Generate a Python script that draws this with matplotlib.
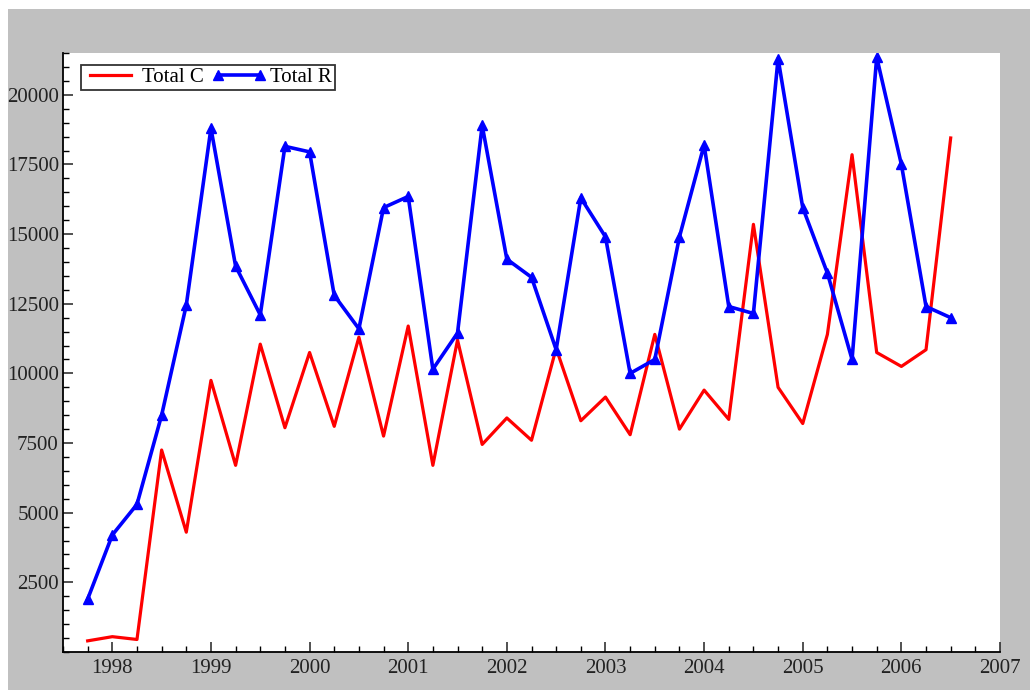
import numpy as np
import matplotlib.pyplot as plt
from matplotlib.patches import Rectangle
from matplotlib.ticker import MultipleLocator, FixedLocator

# quarterly values, 1997 Q4 .. 2006 Q3
t = 1997.75 + 0.25*np.arange(36)

total_c = [400, 550, 450, 7250, 4300, 9750, 6700, 11050, 8050, 10750,
           8100, 11300, 7750, 11700, 6700, 11200, 7450, 8400, 7600, 10900,
           8300, 9150, 7800, 11400, 8000, 9400, 8350, 15350, 9500, 8200,
           11400, 17850, 10750, 10250, 10850, 18450]

total_r = [1900, 4200, 5300, 8500, 12450, 18800, 13850, 12100, 18150, 17950,
           12800, 11600, 15950, 16350, 10150, 11450, 18900, 14100, 13450, 10850,
           16300, 14900, 10000, 10500, 14900, 18200, 12400, 12150, 21300, 15950,
           13600, 10500, 21350, 17500, 12400, 12000]

year_ticks = list(range(1998, 2008))
y_labels = [2500, 5000, 7500, 10000, 12500, 15000, 17500, 20000]

plt.rcParams['font.family'] = ['Liberation Serif', 'DejaVu Serif']

fig = plt.figure(figsize=(10.3, 6.9), dpi=100)
fig.patches.append(Rectangle((8/1030, 0), 1, 1 - 9/690, transform=fig.transFigure,
                             facecolor='#c0c0c0', edgecolor='none', zorder=-10))

ax = fig.add_axes([63/1030, 38/690, 937/1030, 599/690])
ax.set_facecolor('white')

ax.plot(t, total_c, color='#ff0000', lw=2.3, label='Total C')
ax.plot(t, total_r, color='#0000ff', lw=2.6, marker='^', ms=7.5, label='Total R')

ax.set_xlim(1997.5, 2007)
ax.set_ylim(0, 21500)

ax.xaxis.set_major_locator(FixedLocator(year_ticks))
ax.xaxis.set_minor_locator(MultipleLocator(0.25))
ax.yaxis.set_major_locator(FixedLocator(y_labels))
ax.yaxis.set_minor_locator(MultipleLocator(500))

ax.spines['top'].set_visible(False)
ax.spines['right'].set_visible(False)
ax.spines['left'].set_linewidth(1.3)
ax.spines['bottom'].set_linewidth(1.3)

ax.tick_params(which='major', direction='in', length=7, width=1.1, labelsize=15, colors='#222222')
ax.tick_params(which='minor', direction='in', length=4, width=1.0)
ax.tick_params(axis='x', pad=5)
ax.tick_params(axis='y', pad=3)

leg = ax.legend(loc='upper left', bbox_to_anchor=(18/937, 1 - 12/599), ncol=2, fontsize=15,
                frameon=True, fancybox=False, edgecolor='black', handlelength=2.6,
                columnspacing=0.4, numpoints=2, handletextpad=0.2, borderpad=0.12,
                borderaxespad=0)
leg.get_frame().set_linewidth(1.3)

plt.savefig('out.png', dpi=100)
